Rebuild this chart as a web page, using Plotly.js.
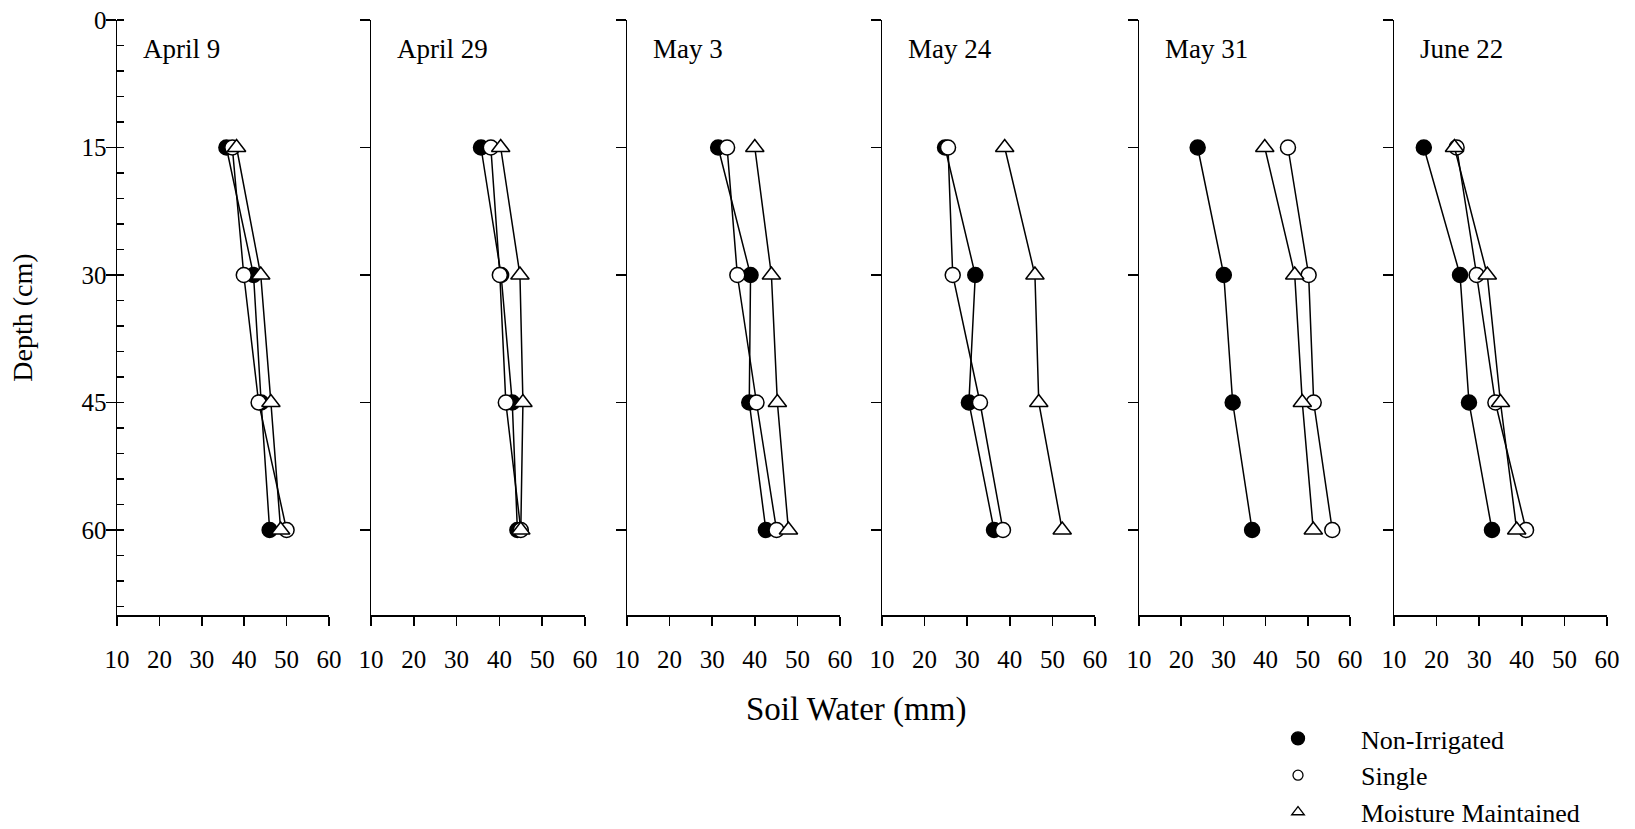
<!DOCTYPE html>
<html>
<head>
<meta charset="utf-8">
<script src="https://cdn.plot.ly/plotly-3.0.1.min.js"></script>
<style>html,body{margin:0;padding:0;background:#fff;}#chart{width:1635px;height:829px;}</style>
</head>
<body>
<div id="chart"></div>
<script>
// ---- data ----
var depths = [15, 30, 45, 60];
var dates = ['April 9', 'April 29', 'May 3', 'May 24', 'May 31', 'June 22'];
var xTicks = [10, 20, 30, 40, 50, 60];
var yTicks = [0, 15, 30, 45, 60];
var yTickLabels = ['0', '15', '30', '45', '60'];
var seriesNames = ['Non-Irrigated', 'Single', 'Moisture Maintained'];

// soil water (mm) at depths 15,30,45,60 for each date
var nonIrrigated = [
  [35.8, 42.2, 44.0, 46.0],
  [35.7, 40.4, 43.0, 44.2],
  [31.4, 39.0, 38.7, 42.6],
  [24.8, 31.9, 30.4, 36.3],
  [23.9, 30.1, 32.2, 36.8],
  [17.0, 25.5, 27.6, 33.0]
];
var single = [
  [37.2, 39.9, 43.4, 50.0],
  [38.0, 40.1, 41.5, 45.0],
  [33.5, 35.9, 40.4, 45.1],
  [25.5, 26.6, 33.0, 38.4],
  [45.3, 50.2, 51.4, 55.8],
  [24.7, 29.4, 33.8, 41.0]
];
var moisture = [
  [38.2, 43.9, 46.3, 48.6],
  [40.3, 44.8, 45.5, 45.0],
  [40.0, 43.9, 45.3, 47.9],
  [38.8, 45.9, 46.8, 52.3],
  [39.8, 46.9, 48.7, 51.3],
  [24.2, 31.9, 35.0, 38.8]
];

// ---- layout helpers ----
var W = 1635, H = 829;
var FONT = '"Liberation Serif", "Times New Roman", serif';
var panelPx = [[117, 329], [371, 585], [627, 840], [882, 1095], [1139, 1350], [1394, 1607]];
var yDom = [1 - 615 / H, 1 - 20 / H];

var traces = [];
var layout = {
  width: W, height: H,
  margin: {l: 0, r: 0, t: 0, b: 0, pad: 0, autoexpand: false},
  paper_bgcolor: '#fff', plot_bgcolor: 'rgba(0,0,0,0)',
  font: {family: FONT, color: '#000', size: 25},
  showlegend: true,
  legend: {
    xref: 'container', yref: 'container',
    x: 1235 / W, y: 1 - 715 / H, xanchor: 'left', yanchor: 'top',
    font: {family: FONT, size: 26, color: '#000'},
    itemwidth: 116, tracegroupgap: 0, bgcolor: 'rgba(0,0,0,0)',
    itemclick: false, itemdoubleclick: false
  },
  annotations: []
};

var styles = [
  {symbol: 'circle', color: '#000', size: 15},
  {symbol: 'circle', color: '#fff', size: 15},
  {symbol: 'triangle-up', color: '#fff', size: 16}
];
var allSeries = [nonIrrigated, single, moisture];

for (var i = 0; i < dates.length; i++) {
  var n = i + 1;
  var xa = 'x' + (i === 0 ? '' : n), ya = 'y' + (i === 0 ? '' : n);
  var xKey = 'xaxis' + (i === 0 ? '' : n), yKey = 'yaxis' + (i === 0 ? '' : n);
  layout[xKey] = {
    domain: [panelPx[i][0] / W, panelPx[i][1] / W],
    range: [10, 60], anchor: ya,
    tickmode: 'array', tickvals: xTicks, ticktext: xTicks.map(String),
    ticks: 'outside', ticklen: 9, tickwidth: 1.5, tickcolor: '#000',
    showline: true, linewidth: 1.5, linecolor: '#000',
    showgrid: false, zeroline: false, fixedrange: true, automargin: false,
    tickfont: {family: FONT, size: 25, color: '#000'},
    ticklabelstandoff: 12
  };
  var yax = {
    domain: yDom, range: [70, 0], anchor: xa,
    tickmode: 'array', tickvals: yTicks, ticktext: yTickLabels,
    showticklabels: i === 0,
    ticks: 'outside', ticklen: 10, tickwidth: 1.5, tickcolor: '#000',
    showline: true, linewidth: 1.5, linecolor: '#000',
    showgrid: false, zeroline: false, fixedrange: true, automargin: false,
    tickfont: {family: FONT, size: 25, color: '#000'},
    ticklabelstandoff: -6
  };
  if (i === 0) {
    yax.minor = {tick0: 0, dtick: 3, ticks: 'inside', ticklen: 7, tickwidth: 1.2, tickcolor: '#000', showgrid: false};
    yax.title = {text: 'Depth (cm)', font: {family: FONT, size: 28, color: '#000'}, standoff: 40};
  }
  layout[yKey] = yax;

  layout.annotations.push({
    xref: 'paper', yref: 'paper',
    x: (panelPx[i][0] + 24) / W, y: 1 - 49 / H,
    xanchor: 'left', yanchor: 'middle', showarrow: false,
    text: dates[i], font: {family: FONT, size: 27, color: '#000'}
  });

  for (var s = 0; s < 3; s++) {
    traces.push({
      type: 'scatter', mode: 'lines+markers',
      x: allSeries[s][i], y: depths,
      xaxis: xa, yaxis: ya,
      name: seriesNames[s], showlegend: false, hoverinfo: 'x+y',
      line: {color: '#000', width: 1.5},
      marker: {symbol: styles[s].symbol, size: styles[s].size, color: styles[s].color,
               line: {color: '#000', width: 1.5}},
      cliponaxis: false
    });
  }
}

// legend entries (markers only)
var legendSizes = [13, 10, 11];
for (var s = 0; s < 3; s++) {
  traces.push({
    type: 'scatter', mode: 'markers', x: [null], y: [null],
    xaxis: 'x', yaxis: 'y', name: seriesNames[s], showlegend: true,
    marker: {symbol: styles[s].symbol, size: legendSizes[s], color: styles[s].color,
             line: {color: '#000', width: 1.3}}
  });
}

layout.annotations.push({
  xref: 'paper', yref: 'paper', x: 856 / W, y: 1 - 709 / H,
  xanchor: 'center', yanchor: 'middle', showarrow: false,
  text: 'Soil Water (mm)', font: {family: FONT, size: 33, color: '#000'}
});

Plotly.newPlot('chart', traces, layout, {staticPlot: true, displayModeBar: false});
</script>
</body>
</html>
